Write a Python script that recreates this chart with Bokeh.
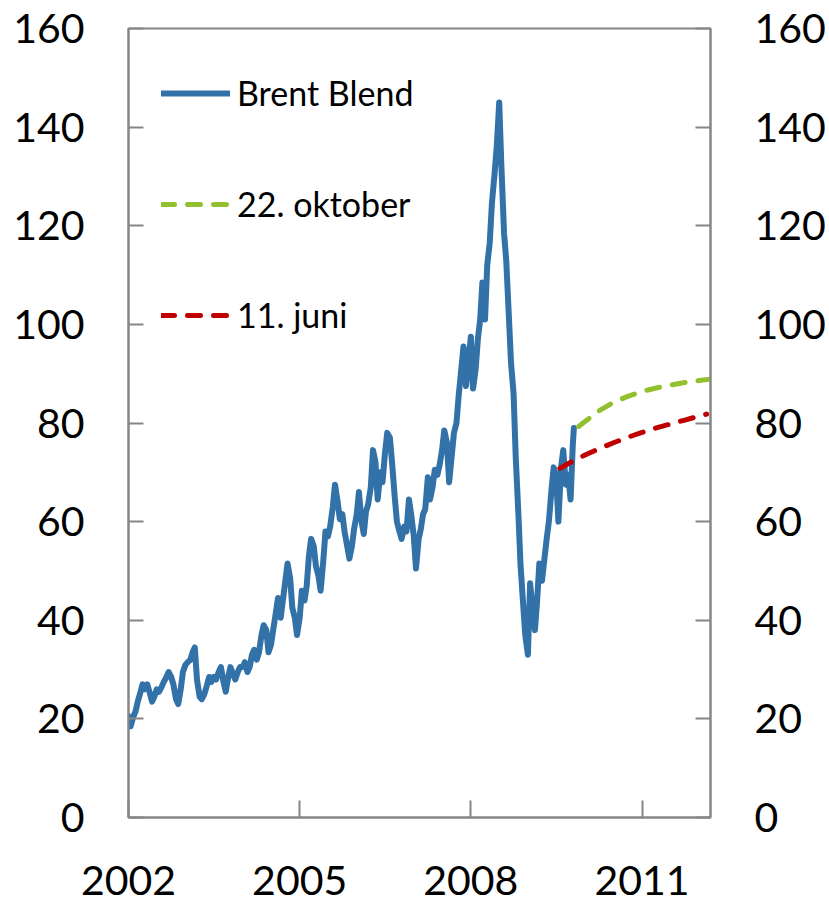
import pandas as pd
from bokeh.plotting import figure
from bokeh.models import LinearAxis, FixedTicker, Range1d, Legend, LegendItem
from bokeh.embed import file_html
from bokeh.resources import INLINE

# ---- data (USD per barrel) ----
brent_2002 = [20.5, 18.5, 20.5, 21.5, 23.5, 25.0, 27.0, 26.0, 27.0, 25.5, 23.5, 24.5,
              26.0, 25.5, 26.5, 27.5, 28.5, 29.5, 28.5, 27.0, 24.0, 23.0, 26.0, 29.5]
brent_2003 = [31.0, 31.5, 32.0, 33.5, 34.5, 28.0, 24.5, 24.0, 25.0, 26.5, 28.5, 27.5,
              28.5, 28.0, 29.5, 30.5, 27.5, 25.5, 28.5, 30.5, 29.0, 28.0, 29.5, 30.5]
brent_2004 = [30.5, 31.5, 29.5, 30.5, 33.0, 34.0, 32.0, 33.5, 37.0, 39.0, 38.0, 33.5,
              35.0, 38.0, 41.5, 44.5, 40.5, 44.0, 48.0, 51.5, 48.5, 42.5, 40.5, 37.0]
brent_2005 = [40.5, 46.0, 44.0, 47.0, 53.0, 56.5, 55.0, 51.0, 49.0, 46.0, 52.0, 58.0,
              57.0, 59.0, 63.0, 67.5, 64.0, 60.5, 61.5, 58.0, 55.0, 52.5, 55.0, 58.5]
brent_2006 = [61.5, 66.0, 60.0, 57.5, 62.0, 63.5, 67.0, 74.5, 72.0, 64.5, 70.0, 68.0,
              74.0, 78.0, 77.0, 72.0, 65.0, 60.0, 58.0, 56.5, 59.0, 58.0, 64.5, 61.5]
brent_2007 = [57.0, 50.5, 56.5, 58.5, 61.5, 62.5, 69.0, 64.5, 67.0, 70.5, 69.5, 71.5,
              74.5, 78.5, 76.0, 68.0, 73.5, 78.0, 80.0, 85.5, 91.0, 95.5, 87.5, 92.0]
brent_2008 = [97.5, 87.0, 91.0, 97.0, 101.0, 108.5, 101.0, 112.0, 116.5, 124.5, 130.5, 136.0,
              145.0, 132.0, 118.5, 113.0, 101.5, 92.0, 86.0, 73.0, 61.5, 51.0, 43.5, 37.0]
brent_2009 = [33.0, 47.5, 42.0, 38.0, 44.0, 51.5, 48.0, 52.0, 56.5, 60.0, 66.5, 71.0,
              69.0, 60.0, 71.0, 74.5, 67.5, 69.5, 64.5, 75.5, 79.0]

brent_dates = list(pd.date_range("2002-01-01", "2009-10-15", freq="SMS")) + [pd.Timestamp("2009-10-22")]
brent_values = (brent_2002 + brent_2003 + brent_2004 + brent_2005 + brent_2006 +
                brent_2007 + brent_2008 + brent_2009)

# forward curves (decimal year, price)
juni_x = [2009.56, 2009.79, 2010.0, 2010.25, 2010.5, 2010.75, 2011.0, 2011.25, 2011.5, 2011.75, 2012.0, 2012.13]
juni_y = [70.8, 72.3, 73.5, 74.8, 76.0, 77.1, 78.1, 79.0, 79.8, 80.6, 81.4, 81.8]
okt_x = [2009.89, 2010.0, 2010.25, 2010.5, 2010.75, 2011.0, 2011.25, 2011.5, 2011.75, 2012.0, 2012.2]
okt_y = [79.3, 80.3, 82.5, 84.2, 85.4, 86.4, 87.1, 87.7, 88.2, 88.6, 88.9]

x_ticks = [2002, 2005, 2008, 2011]
y_ticks = [0, 20, 40, 60, 80, 100, 120, 140, 160]


def dec_year(ts):
    days = 366 if ts.is_leap_year else 365
    return ts.year + (ts.dayofyear - 1) / days


brent_x = [dec_year(d) for d in brent_dates]

FONT = "Lato"
AX = "#868686"
BLUE = "#3372A8"
GREEN = "#92C02E"
RED = "#C00000"

p = figure(width=828, height=914, output_backend="svg", toolbar_location=None,
           x_range=Range1d(2002, 2012.2), y_range=Range1d(0, 160),
           min_border_left=128, min_border_right=116, min_border_top=28, min_border_bottom=97,
           y_axis_location=None, x_axis_location=None)
p.xgrid.visible = False
p.ygrid.visible = False
p.outline_line_color = AX
p.outline_line_width = 2
p.background_fill_color = "white"
p.border_fill_color = "white"

r_brent = p.line(brent_x, brent_values, line_color=BLUE, line_width=6, line_join="round", line_cap="round")
r_okt = p.line(okt_x, okt_y, line_color=GREEN, line_width=5, line_dash="13 13", line_cap="round")
r_juni = p.line(juni_x, juni_y, line_color=RED, line_width=5, line_dash="13 13", line_cap="round")


def style_axis(ax, standoff):
    ax.axis_line_color = AX
    ax.axis_line_width = 2
    ax.major_tick_line_color = AX
    ax.major_tick_line_width = 2
    ax.major_tick_out = 0
    ax.minor_tick_line_color = None
    ax.major_label_text_font = FONT
    ax.major_label_text_font_size = "41px"
    ax.major_label_text_color = "black"
    ax.major_label_standoff = standoff


left = LinearAxis(ticker=FixedTicker(ticks=y_ticks))
style_axis(left, 44)
left.major_tick_in = 15
p.add_layout(left, "left")

right = LinearAxis(ticker=FixedTicker(ticks=y_ticks))
style_axis(right, 44)
right.major_tick_in = 15
p.add_layout(right, "right")

bottom = LinearAxis(ticker=FixedTicker(ticks=x_ticks))
style_axis(bottom, 48)
bottom.major_tick_in = 17
bottom.major_label_overrides = {t: str(t) for t in x_ticks}
p.add_layout(bottom, "below")

legend = Legend(items=[LegendItem(label="Brent Blend", renderers=[r_brent]),
                       LegendItem(label="22. oktober", renderers=[r_okt]),
                       LegendItem(label="11. juni", renderers=[r_juni])],
                location=(33, 482), orientation="vertical",
                glyph_width=69, glyph_height=40, label_height=40, spacing=70,
                label_standoff=7, padding=0, margin=0,
                border_line_color=None, background_fill_alpha=0,
                label_text_font=FONT, label_text_font_size="34px", label_text_color="black")
p.add_layout(legend, "center")

open("out.html", "w").write(file_html(p, INLINE))
